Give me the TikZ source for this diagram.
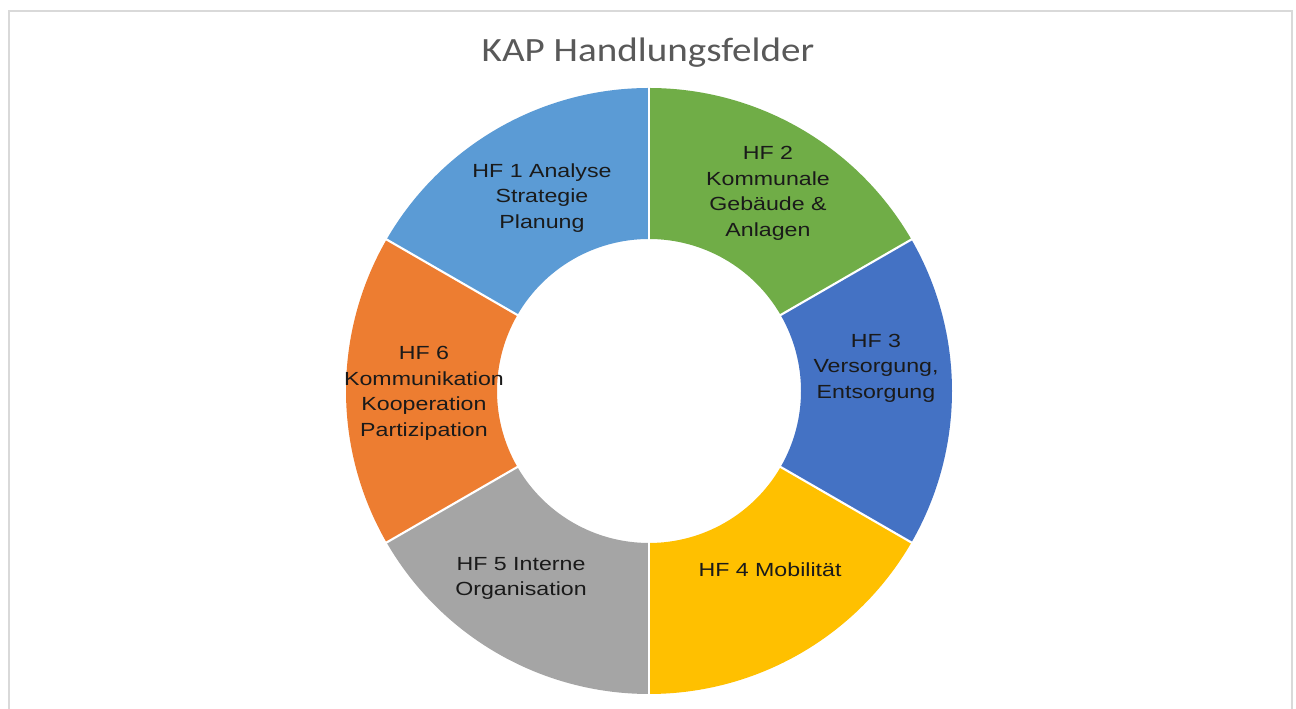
\documentclass[tikz,border=0pt]{standalone}
\usepackage{fontspec}
\setmainfont{Liberation Sans}
\newfontfamily\titlefont{Carlito}
\definecolor{hfone}{HTML}{5B9BD5}
\definecolor{hftwo}{HTML}{70AD47}
\definecolor{hfthree}{HTML}{4472C4}
\definecolor{hffour}{HTML}{FFC000}
\definecolor{hffive}{HTML}{A5A5A5}
\definecolor{hfsix}{HTML}{ED7D31}
\definecolor{framec}{HTML}{D9D9D9}
\definecolor{titlec}{HTML}{595959}
\definecolor{labelc}{HTML}{1A1A1A}
\begin{document}
\begin{tikzpicture}[x=0.75pt,y=0.75pt,
  lbl/.style={align=center, text=labelc, inner sep=0pt, xscale=1.22,
    font=\fontsize{14.25}{19.2}\selectfont},
  sep/.style={white, line width=1.6pt}]
\useasboundingbox (0,0) rectangle (1296,709);
\fill[white] (0,0) rectangle (1296,709);
\draw[framec, line width=1.5pt] (9,0) -- (9,698) -- (1292,698) -- (1292,0);
\coordinate (c) at (649,318);
\def\ro{303}\def\ri{152}
\foreach \a/\b/\col in {150/90/hfone, 90/30/hftwo, 30/-30/hfthree, -30/-90/hffour, -90/-150/hffive, -150/-210/hfsix}{
  \fill[\col] ([shift={(\a:\ro)}]c) arc[start angle=\a, end angle=\b, radius=\ro]
    -- ([shift={(\b:\ri)}]c) arc[start angle=\b, end angle=\a, radius=\ri] -- cycle;
}
\foreach \a in {90,30,-30,-90,-150,150}{
  \draw[sep] ([shift={(\a:\ri-2)}]c) -- ([shift={(\a:\ro+2)}]c);
}
\node[text=titlec, xscale=1.15, font=\titlefont\fontsize{25.5}{30}\selectfont] (title) at (648,656) {KAP Handlungsfelder};
\node[lbl] (hf1) at (542,511) {HF 1 Analyse\\Strategie\\Planung};
\node[lbl] (hf2) at (768,515.5) {HF 2\\Kommunale\\Gebäude \&\\Anlagen};
\node[lbl] (hf3) at (876,341) {HF 3\\Versorgung,\\Entsorgung};
\node[lbl] (hf4) at (770,139) {HF 4 Mobilität};
\node[lbl] (hf5) at (521,130.5) {HF 5 Interne\\Organisation};
\node[lbl] (hf6) at (424,315.5) {HF 6\\Kommunikation\\Kooperation\\Partizipation};
\end{tikzpicture}
\end{document}
